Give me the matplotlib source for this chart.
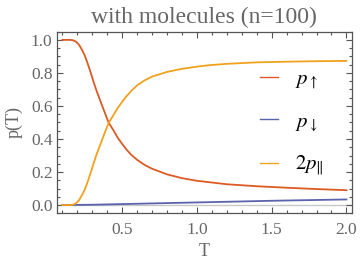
import matplotlib
matplotlib.use("Agg")
import matplotlib.pyplot as plt
from matplotlib.ticker import MultipleLocator

# ---- data ----
T_up = [0.10, 0.15, 0.17, 0.19, 0.21, 0.23, 0.25, 0.27, 0.29, 0.31, 0.33, 0.35, 0.37, 0.39, 0.41,
        0.44, 0.47, 0.50, 0.53, 0.56, 0.60, 0.65, 0.70, 0.80, 0.90, 1.00, 1.20, 1.40, 1.60, 1.80, 2.00]
p_up = [1.000, 1.000, 0.998, 0.990, 0.972, 0.942, 0.905, 0.855, 0.800, 0.742, 0.688, 0.640, 0.592, 0.545, 0.498,
        0.455, 0.408, 0.370, 0.335, 0.305, 0.274, 0.243, 0.220, 0.186, 0.163, 0.147, 0.126, 0.114, 0.105, 0.097, 0.090]

T_down = [0.10, 0.20, 0.30, 0.40, 0.50, 0.75, 1.00, 1.25, 1.50, 1.75, 2.00]
p_down = [0.000, 0.001, 0.002, 0.004, 0.006, 0.011, 0.016, 0.021, 0.026, 0.030, 0.034]

T_par = [0.10, 0.15, 0.17, 0.19, 0.21, 0.23, 0.25, 0.27, 0.29, 0.31, 0.33, 0.35, 0.37, 0.39, 0.41,
         0.44, 0.47, 0.50, 0.53, 0.56, 0.60, 0.65, 0.70, 0.80, 0.90, 1.00, 1.085, 1.20, 1.40, 1.60, 1.80, 2.00]
p_par2 = [0.000, 0.000, 0.002, 0.010, 0.028, 0.058, 0.094, 0.143, 0.198, 0.255, 0.310, 0.357, 0.405, 0.453, 0.498,
          0.542, 0.588, 0.625, 0.660, 0.690, 0.725, 0.755, 0.778, 0.806, 0.825, 0.838, 0.847, 0.855, 0.864, 0.868, 0.871, 0.873]

labels = [r'$p_{\uparrow}$', r'$p_{\downarrow}$', r'$2p_{\Vert}$']
colors = ['#DC5A24', '#5A63AC', '#F0A21E']
title = 'with molecules (n=100)'
xlabel = 'T'
ylabel = 'p(T)'

plt.rcParams['mathtext.fontset'] = 'stix'
serif = ['Liberation Serif', 'DejaVu Serif']
gray = '#666666'

fig = plt.figure(figsize=(3.6, 2.68), dpi=100)
ax = fig.add_axes([0.1575, 0.204, 0.8205, 0.678])

ax.axhline(0, color='#C8C8C8', lw=1.0, zorder=1)
ax.plot(T_up, p_up, color=colors[0], lw=1.3, label=labels[0], zorder=3)
ax.plot(T_down, p_down, color=colors[1], lw=1.3, label=labels[1], zorder=3)
ax.plot(T_par, p_par2, color=colors[2], lw=1.3, label=labels[2], zorder=3)

ax.set_xlim(0.062, 2.038)
ax.set_ylim(-0.05, 1.05)
ax.xaxis.set_major_locator(MultipleLocator(0.5))
ax.xaxis.set_minor_locator(MultipleLocator(0.1))
ax.yaxis.set_major_locator(MultipleLocator(0.2))
ax.yaxis.set_minor_locator(MultipleLocator(0.05))
ax.set_xticks([0.5, 1.0, 1.5, 2.0])
ax.set_xticklabels(['0.5', '1.0', '1.5', '2.0'])
ax.set_yticks([0.0, 0.2, 0.4, 0.6, 0.8, 1.0])
ax.set_yticklabels(['0.0', '0.2', '0.4', '0.6', '0.8', '1.0'])

ax.tick_params(which='both', direction='in', top=True, right=True, color='#555555', width=0.8)
ax.tick_params(which='major', length=4)
ax.tick_params(which='minor', length=2)
ax.tick_params(axis='x', which='major', pad=6)
ax.tick_params(axis='y', which='major', pad=3)
for lab in ax.get_xticklabels() + ax.get_yticklabels():
    lab.set_family(serif)
    lab.set_fontsize(12.5)
    lab.set_color(gray)
for s in ax.spines.values():
    s.set_color('#555555')
    s.set_linewidth(0.9)

ax.set_title(title, family=serif, fontsize=17, color=gray, pad=6)
ax.set_xlabel(xlabel, family=serif, fontsize=13, color=gray, labelpad=4)
ax.set_ylabel(ylabel, family=serif, fontsize=13, color=gray, labelpad=6)

leg = ax.legend(loc='center left', bbox_to_anchor=(0.688, 0.496), frameon=False,
                borderaxespad=0, borderpad=0,
                fontsize=15, handlelength=0.87, handletextpad=0.8, labelspacing=0.95)
for line in leg.get_lines():
    line.set_linewidth(1.0)

fig.savefig('out.png', dpi=100)
